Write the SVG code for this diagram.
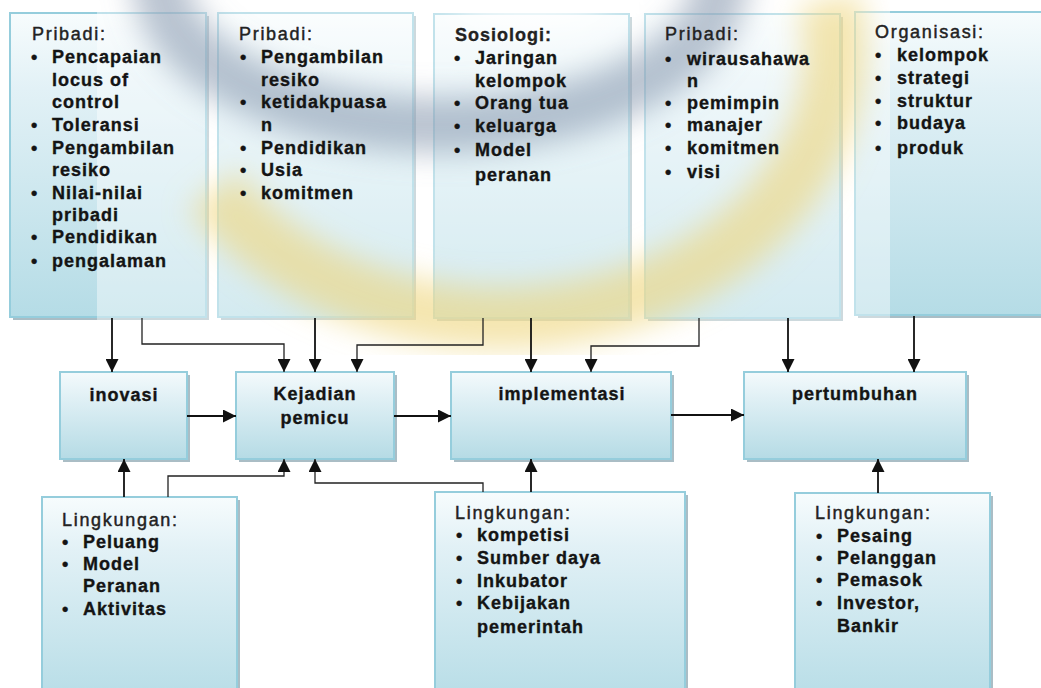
<svg xmlns="http://www.w3.org/2000/svg" width="1041" height="688" viewBox="0 0 1041 688">
<style>
.box{fill:url(#bg);stroke:#95cddc;stroke-width:2}
.sh{fill:#8ea7b1;opacity:0.75}
.h{font-family:"Liberation Sans",Arial,sans-serif;font-size:18px;letter-spacing:1.7px;fill:#222;stroke:#222;stroke-width:0.45}
.hb{font-family:"Liberation Sans",Arial,sans-serif;font-size:18px;font-weight:bold;letter-spacing:1px;fill:#222;stroke:#222;stroke-width:0.3}
.t{font-family:"Liberation Sans",Arial,sans-serif;font-size:18px;font-weight:bold;letter-spacing:1px;fill:#141414;stroke:#141414;stroke-width:0.35}
.c{font-family:"Liberation Sans",Arial,sans-serif;font-size:18px;font-weight:bold;letter-spacing:1px;fill:#141414;stroke:#141414;stroke-width:0.35;text-anchor:middle}
.ln{fill:none;stroke:#111;stroke-width:1.8;marker-end:url(#ar)}
.ln2{fill:none;stroke:#222;stroke-width:1.3;marker-end:url(#ar)}
</style>
<defs>
<linearGradient id="bg" x1="0" y1="0" x2="0" y2="1">
<stop offset="0" stop-color="#f7fcfd"/>
<stop offset="0.25" stop-color="#e2f1f6"/>
<stop offset="1" stop-color="#b5dce6"/>
</linearGradient>
<linearGradient id="bgm" x1="0" y1="0" x2="0" y2="1">
<stop offset="0" stop-color="#f4fafc"/>
<stop offset="0.3" stop-color="#e0f0f5"/>
<stop offset="1" stop-color="#b5dbe5"/>
</linearGradient>
<marker id="ar" viewBox="0 0 10 10" markerWidth="13" markerHeight="13" refX="10" refY="5" orient="auto" markerUnits="userSpaceOnUse">
<path d="M0,0 L10,5 L0,10 z" fill="#111"/>
</marker>
<filter id="blur" x="-30%" y="-30%" width="160%" height="160%">
<feGaussianBlur stdDeviation="15"/>
</filter>
<clipPath id="ov"><rect x="97" y="0" width="793" height="355"/></clipPath>
</defs>
<rect width="1041" height="688" fill="#fff"/>

<!-- boxes -->
<g id="box-pribadi1"><rect class="sh" x="13" y="16" width="196" height="304"/><rect class="box" x="10" y="13" width="196" height="304"/></g>
<g id="box-pribadi2"><rect class="sh" x="221" y="16" width="195" height="304"/><rect class="box" x="218" y="13" width="195" height="304"/></g>
<g id="box-sosiologi"><rect class="sh" x="437" y="17" width="195" height="304"/><rect class="box" x="434" y="14" width="195" height="304"/></g>
<g id="box-pribadi3"><rect class="sh" x="648" y="17" width="195" height="304"/><rect class="box" x="645" y="14" width="195" height="304"/></g>
<g id="box-organisasi"><rect class="sh" x="858" y="15" width="205" height="303"/><rect class="box" x="855" y="12" width="205" height="303"/></g>

<g id="box-inovasi"><rect class="sh" x="63" y="375" width="127" height="87"/><rect class="box" style="fill:url(#bgm)" x="60" y="372" width="127" height="87"/></g>
<g id="box-kejadian"><rect class="sh" x="239" y="375" width="158" height="87"/><rect class="box" style="fill:url(#bgm)" x="236" y="372" width="158" height="87"/></g>
<g id="box-implementasi"><rect class="sh" x="454" y="375" width="220" height="87"/><rect class="box" style="fill:url(#bgm)" x="451" y="372" width="220" height="87"/></g>
<g id="box-pertumbuhan"><rect class="sh" x="747" y="375" width="222" height="87"/><rect class="box" style="fill:url(#bgm)" x="744" y="372" width="222" height="87"/></g>

<g id="box-lingkungan1"><rect class="sh" x="45" y="500" width="195" height="210"/><rect class="box" x="42" y="497" width="195" height="210"/></g>
<g id="box-lingkungan2"><rect class="sh" x="438" y="495" width="250" height="215"/><rect class="box" x="435" y="492" width="250" height="215"/></g>
<g id="box-lingkungan3"><rect class="sh" x="798" y="496" width="195" height="215"/><rect class="box" x="795" y="493" width="195" height="215"/></g>

<!-- background swirl overlay -->
<g clip-path="url(#ov)">
<rect x="97" y="0" width="793" height="355" fill="#fff" opacity="0.42"/>
<g filter="url(#blur)">
<path d="M829,0 A335,268 0 0 1 214,190" fill="none" stroke="#eed679" stroke-width="62" opacity="0.6"/>
<ellipse cx="440" cy="-20" rx="280" ry="145" fill="none" stroke="#8193ac" stroke-width="56" opacity="0.55"/>
<ellipse cx="530" cy="0" rx="80" ry="28" fill="#fff" opacity="0.8"/>
</g>
</g>

<!-- connectors -->
<g id="connectors">
<path class="ln" d="M112,318 V372"/>
<path class="ln2" d="M142,318 V344 H284 V372"/>
<path class="ln" d="M315,318 V372"/>
<path class="ln2" d="M483,318 V345 H357 V372"/>
<path class="ln" d="M531,318 V372"/>
<path class="ln2" d="M699,318 V346 H591 V372"/>
<path class="ln" d="M788,318 V372"/>
<path class="ln" d="M914,316 V372"/>
<path class="ln" d="M187,416 H236"/>
<path class="ln" d="M394,416 H451"/>
<path class="ln" d="M671,415 H744"/>
<path class="ln" d="M124,497 V459"/>
<path class="ln2" d="M168,497 V476 H284 V459"/>
<path class="ln2" d="M483,492 V483 H315 V459"/>
<path class="ln" d="M531,492 V459"/>
<path class="ln" d="M878,493 V459"/>
</g>

<!-- texts -->
<g id="text-pribadi1">
<text class="h" x="32" y="40">Pribadi:</text>
<text class="t"><tspan x="31" y="63">•</tspan><tspan x="52" y="63">Pencapaian</tspan><tspan x="52" y="86">locus of</tspan><tspan x="52" y="108">control</tspan><tspan x="31" y="131">•</tspan><tspan x="52" y="131">Toleransi</tspan><tspan x="31" y="154">•</tspan><tspan x="52" y="154">Pengambilan</tspan><tspan x="52" y="176">resiko</tspan><tspan x="31" y="199">•</tspan><tspan x="52" y="199">Nilai-nilai</tspan><tspan x="52" y="221">pribadi</tspan><tspan x="31" y="243">•</tspan><tspan x="52" y="243">Pendidikan</tspan><tspan x="31" y="267">•</tspan><tspan x="52" y="267">pengalaman</tspan></text>
</g>
<g id="text-pribadi2">
<text class="h" x="239" y="40">Pribadi:</text>
<text class="t"><tspan x="240" y="63">•</tspan><tspan x="261" y="63">Pengambilan</tspan><tspan x="261" y="86">resiko</tspan><tspan x="240" y="108">•</tspan><tspan x="261" y="108">ketidakpuasa</tspan><tspan x="261" y="131">n</tspan><tspan x="240" y="154">•</tspan><tspan x="261" y="154">Pendidikan</tspan><tspan x="240" y="176">•</tspan><tspan x="261" y="176">Usia</tspan><tspan x="240" y="199">•</tspan><tspan x="261" y="199">komitmen</tspan></text>
</g>
<g id="text-sosiologi">
<text class="hb" x="455" y="41">Sosiologi:</text>
<text class="t"><tspan x="454" y="64">•</tspan><tspan x="475" y="64">Jaringan</tspan><tspan x="475" y="87">kelompok</tspan><tspan x="454" y="109">•</tspan><tspan x="475" y="109">Orang tua</tspan><tspan x="454" y="132">•</tspan><tspan x="475" y="132">keluarga</tspan><tspan x="454" y="156">•</tspan><tspan x="475" y="156">Model</tspan><tspan x="475" y="181">peranan</tspan></text>
</g>
<g id="text-pribadi3">
<text class="h" x="665" y="40">Pribadi:</text>
<text class="t"><tspan x="665" y="65">•</tspan><tspan x="687" y="65">wirausahawa</tspan><tspan x="687" y="87">n</tspan><tspan x="665" y="109">•</tspan><tspan x="687" y="109">pemimpin</tspan><tspan x="665" y="131">•</tspan><tspan x="687" y="131">manajer</tspan><tspan x="665" y="154">•</tspan><tspan x="687" y="154">komitmen</tspan><tspan x="665" y="178">•</tspan><tspan x="687" y="178">visi</tspan></text>
</g>
<g id="text-organisasi">
<text class="h" x="875" y="38">Organisasi:</text>
<text class="t"><tspan x="875" y="61">•</tspan><tspan x="897" y="61">kelompok</tspan><tspan x="875" y="84">•</tspan><tspan x="897" y="84">strategi</tspan><tspan x="875" y="107">•</tspan><tspan x="897" y="107">struktur</tspan><tspan x="875" y="129">•</tspan><tspan x="897" y="129">budaya</tspan><tspan x="875" y="154">•</tspan><tspan x="897" y="154">produk</tspan></text>
</g>

<text class="c" x="124" y="401">inovasi</text>
<text class="c" x="315" y="400">Kejadian</text>
<text class="c" x="315" y="424">pemicu</text>
<text class="c" x="562" y="400">implementasi</text>
<text class="c" x="855" y="400">pertumbuhan</text>

<g id="text-lingkungan1">
<text class="h" x="62" y="526">Lingkungan:</text>
<text class="t"><tspan x="62" y="548">•</tspan><tspan x="83" y="548">Peluang</tspan><tspan x="62" y="570">•</tspan><tspan x="83" y="570">Model</tspan><tspan x="83" y="592">Peranan</tspan><tspan x="62" y="615">•</tspan><tspan x="83" y="615">Aktivitas</tspan></text>
</g>
<g id="text-lingkungan2">
<text class="h" x="455" y="519">Lingkungan:</text>
<text class="t"><tspan x="456" y="541">•</tspan><tspan x="477" y="541">kompetisi</tspan><tspan x="456" y="564">•</tspan><tspan x="477" y="564">Sumber daya</tspan><tspan x="456" y="587">•</tspan><tspan x="477" y="587">Inkubator</tspan><tspan x="456" y="609">•</tspan><tspan x="477" y="609">Kebijakan</tspan><tspan x="477" y="633">pemerintah</tspan></text>
</g>
<g id="text-lingkungan3">
<text class="h" x="815" y="519">Lingkungan:</text>
<text class="t"><tspan x="816" y="542">•</tspan><tspan x="837" y="542">Pesaing</tspan><tspan x="816" y="564">•</tspan><tspan x="837" y="564">Pelanggan</tspan><tspan x="816" y="586">•</tspan><tspan x="837" y="586">Pemasok</tspan><tspan x="816" y="609">•</tspan><tspan x="837" y="609">Investor,</tspan><tspan x="837" y="632">Bankir</tspan></text>
</g>
</svg>
